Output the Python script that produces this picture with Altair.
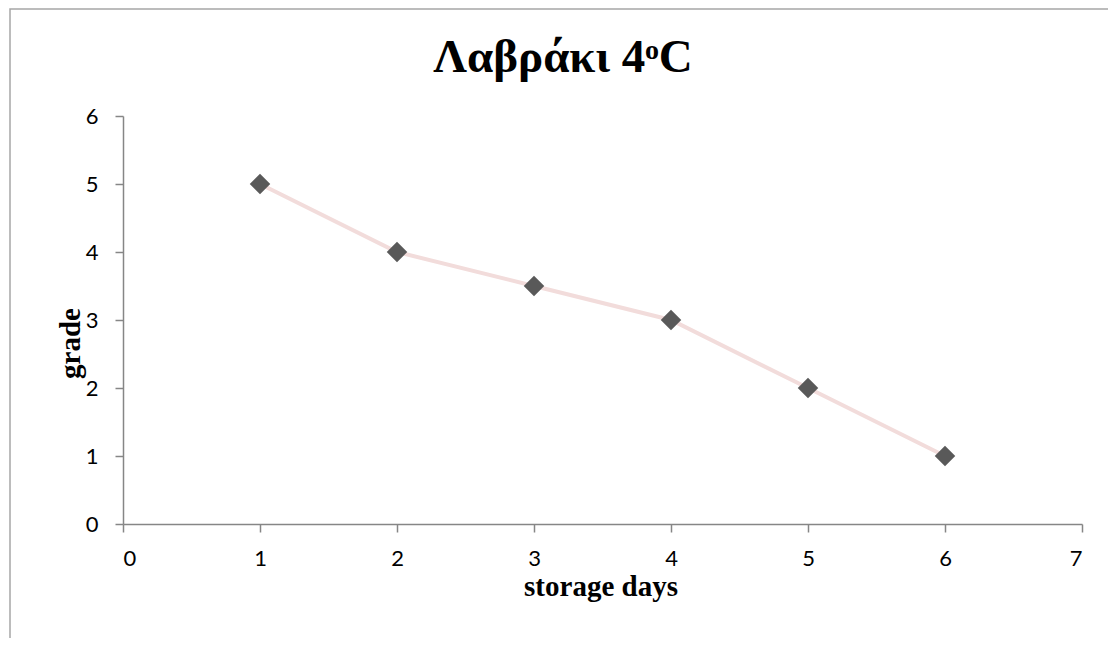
import altair as alt
import pandas as pd

days = [1, 2, 3, 4, 5, 6]
grade = [5, 4, 3.5, 3, 2, 1]
x_ticks = [0, 1, 2, 3, 4, 5, 6, 7]
y_ticks = [0, 1, 2, 3, 4, 5, 6]
title_text = "Λαβράκι 4ᵒC"
x_title = "storage days"
y_title = "grade"

df = pd.DataFrame({"days": days, "grade": grade})

W, H = 959, 408

x_enc = alt.X(
    "days:Q",
    scale=alt.Scale(domain=[0, 7], nice=False, zero=False),
    axis=alt.Axis(
        values=x_ticks, title=x_title, grid=False, domainColor="#868686", domainWidth=1.5,
        tickColor="#868686", tickWidth=1.5, tickSize=8, labelPadding=16,
        labelFont="Lato", labelFontSize=22, labelColor="#000000",
        titleFont="Liberation Serif", titleFontSize=29, titleFontWeight="bold", titleColor="#000000",
        titleX=W / 2 - 2, titleY=62, titleBaseline="middle",
    ),
)
y_enc = alt.Y(
    "grade:Q",
    scale=alt.Scale(domain=[0, 6], nice=False),
    axis=alt.Axis(
        values=y_ticks, title=y_title, grid=False, domainColor="#868686", domainWidth=1.5,
        tickColor="#868686", tickWidth=1.5, tickSize=8, labelPadding=17,
        labelFont="Lato", labelFontSize=22, labelColor="#000000",
        titleFont="Liberation Serif", titleFontSize=29, titleFontWeight="bold", titleColor="#000000",
        titleX=-53, titleY=227, titleAngle=-90, titleBaseline="middle",
    ),
)

base = alt.Chart(df)
line = base.mark_line(color="#f2dcdb", strokeWidth=4).encode(x=x_enc, y=y_enc)
pts = base.mark_point(shape="diamond", filled=True, color="#595959", opacity=1, size=420).encode(x=x_enc, y=y_enc)

border = alt.Chart(alt.Data(values=[{}])).mark_rect(
    fill="transparent", stroke="#a6a6a6", strokeWidth=1.5
).encode(x=alt.value(-113), x2=alt.value(1100), y=alt.value(-107), y2=alt.value(700))

title = alt.Chart(alt.Data(values=[{}])).mark_text(
    text=title_text, font="Liberation Serif", fontSize=47, fontWeight="bold",
    color="#000000", align="center", baseline="alphabetic"
).encode(x=alt.value(563 - 123), y=alt.value(72 - 116))

chart = alt.layer(border, line, pts, title).properties(
    width=W, height=H,
    padding={"left": 115, "top": 108, "right": 26, "bottom": 114},
    autosize=alt.AutoSizeParams(type="none"),
).configure_view(stroke=None)

chart.save("out.html", embed_options={"renderer": "svg", "actions": False})
